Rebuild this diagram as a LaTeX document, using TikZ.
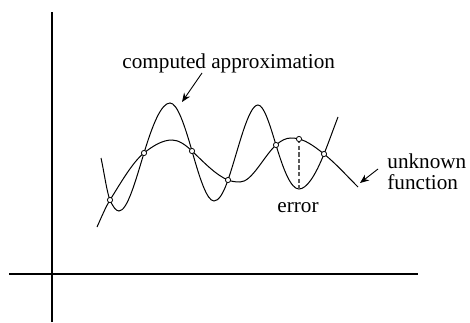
\documentclass[tikz,border=0pt]{standalone}
\usepackage{fontspec}
\setmainfont{Liberation Serif}
\usetikzlibrary{arrows.meta}
\begin{document}
\begin{tikzpicture}[x=0.5pt,y=0.5pt,
  curve/.style={line width=0.5pt},
  axis/.style={line width=0.55pt},
  dot/.style={circle,draw,fill=white,inner sep=0pt,minimum size=2.6pt,line width=0.4pt},
  lbl/.style={inner sep=0pt,anchor=base west,font=\fontsize{10.6}{12}\selectfont},
  ptr/.style={line width=0.45pt,-{Stealth[length=4.5pt,width=3.6pt]}},
  errline/.style={line width=0.55pt,draw=black!65,dash pattern=on 2.2pt off 1.1pt}]
\useasboundingbox (0,0) rectangle (470,322);
% axes
\coordinate (xl) at (9,48);
\coordinate (xr) at (418,48);
\coordinate (yb) at (52,0);
\coordinate (yt) at (52,310);
\draw[axis] (xl) -- (xr);
\draw[axis] (yb) -- (yt);
% interpolation points
\coordinate (p1) at (110,122);
\coordinate (p2) at (144,169);
\coordinate (p3) at (192,171);
\coordinate (p4) at (228,142);
\coordinate (p5) at (276,177);
\coordinate (p6) at (299,183);
\coordinate (p7) at (324,168);
\coordinate (q6) at (299,133);
% unknown function
\draw[curve] (97,95)
  .. controls (101.33,104.53) and (105.67,115.07) .. (p1)
  .. controls (121.33,140.13) and (132.67,159.93) .. (p2)
  .. controls (153.33,176.47) and (162.67,182) .. (172,182)
  .. controls (178.67,182) and (185.33,177.33) .. (p3)
  .. controls (204,159.6) and (216,146.8) .. (p4)
  .. controls (232,140.4) and (236,140) .. (240,140)
  .. controls (252,140) and (264,166.2) .. (p5)
  .. controls (281,181.5) and (286,184) .. (291,184)
  .. controls (293.67,184) and (296.33,183.67) .. (p6)
  .. controls (307.33,180.92) and (315.67,174.67) .. (p7)
  .. controls (335.33,158.93) and (346.67,146.33) .. (358,135);
% computed approximation
\draw[curve] (101,164)
  .. controls (104,150.5) and (107,128.9) .. (p1)
  .. controls (113,115.1) and (116,111) .. (119,111)
  .. controls (127.33,111) and (135.67,141.5) .. (p2)
  .. controls (152.67,197.6) and (161.33,219) .. (170,219)
  .. controls (177.33,219) and (184.67,196.67) .. (p3)
  .. controls (199.33,145.33) and (206.67,121) .. (214,121)
  .. controls (218.67,121) and (223.33,128.47) .. (p4)
  .. controls (238,171) and (248,217) .. (258,217)
  .. controls (264,217) and (270,196.8) .. (p5)
  .. controls (283.33,152.8) and (290.67,133) .. (q6)
  .. controls (306.67,133) and (315.33,146.33) .. (p7)
  .. controls (328.67,179.67) and (333.33,192.87) .. (338,205);
% error
\draw[errline] (p6) -- (q6);
\foreach \p in {p1,p2,p3,p4,p5,p6,p7} \node[dot] at (\p) {};
% labels
\node[lbl] (comp) at (122,254) {computed approximation};
\node[lbl] (err) at (277,110) {error};
\node[lbl] (unk1) at (387,154) {unknown};
\node[lbl] (unk2) at (387,133) {function};
% pointers
\coordinate (ca) at (202,249);
\coordinate (cb) at (182,220);
\coordinate (ua) at (378,153);
\coordinate (ub) at (360,139);
\draw[ptr] (ca) -- (cb);
\draw[ptr] (ua) -- (ub);
\end{tikzpicture}
\end{document}
